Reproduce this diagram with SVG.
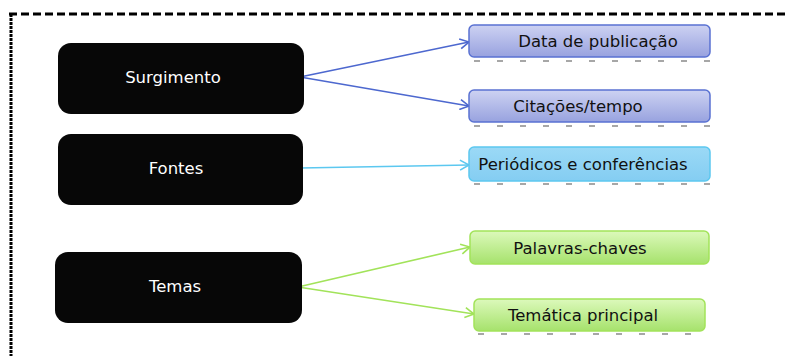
<svg xmlns="http://www.w3.org/2000/svg" width="789" height="356" viewBox="0 0 789 356">
<defs>
<linearGradient id="gBlue" x1="0" y1="0" x2="0" y2="1"><stop offset="0" stop-color="#cdd2f2"/><stop offset="1" stop-color="#98a2df"/></linearGradient>
<linearGradient id="gCyan" x1="0" y1="0" x2="0" y2="1"><stop offset="0" stop-color="#9bd9f6"/><stop offset="1" stop-color="#84cdf2"/></linearGradient>
<linearGradient id="gGreen" x1="0" y1="0" x2="0" y2="1"><stop offset="0" stop-color="#dcf9bb"/><stop offset="1" stop-color="#a6e26c"/></linearGradient>
<marker id="aBlue" markerWidth="12" markerHeight="12" refX="10" refY="6" orient="auto" markerUnits="userSpaceOnUse"><path d="M1,1 L10,6 L1,11" fill="none" stroke="#4d68cf" stroke-width="1.6"/></marker>
<marker id="aCyan" markerWidth="12" markerHeight="12" refX="10" refY="6" orient="auto" markerUnits="userSpaceOnUse"><path d="M1,1 L10,6 L1,11" fill="none" stroke="#5cc8f0" stroke-width="1.6"/></marker>
<marker id="aGreen" markerWidth="12" markerHeight="12" refX="10" refY="6" orient="auto" markerUnits="userSpaceOnUse"><path d="M1,1 L10,6 L1,11" fill="none" stroke="#a2e35a" stroke-width="1.6"/></marker>
</defs>
<style>
.dark{fill:#070707;}
.dt{font-family:"DejaVu Sans",sans-serif;font-size:16.5px;fill:#ffffff;text-anchor:middle;dominant-baseline:central;}
.lt{font-family:"DejaVu Sans",sans-serif;font-size:16.5px;fill:#111111;text-anchor:middle;dominant-baseline:central;}
.shadow{stroke:#8a8a8a;stroke-width:1.5;stroke-dasharray:6 17;fill:none;}
.border{fill:none;stroke:#000;stroke-width:3;}
</style>
<rect width="789" height="356" fill="#ffffff"/>
<g id="frame">
<line class="border" x1="9" y1="14" x2="789" y2="14" stroke-dasharray="8 4"/>
<line class="border" x1="11" y1="14" x2="11" y2="356" stroke-dasharray="3 1"/>
</g>
<g id="connectors" fill="none" stroke-width="1.6">
<line x1="300" y1="77" x2="469" y2="42" stroke="#4d68cf" marker-end="url(#aBlue)"/>
<line x1="300" y1="77" x2="469" y2="106" stroke="#4d68cf" marker-end="url(#aBlue)"/>
<line x1="300" y1="168" x2="469" y2="165" stroke="#5cc8f0" marker-end="url(#aCyan)"/>
<line x1="298" y1="287" x2="470" y2="247" stroke="#a2e35a" marker-end="url(#aGreen)"/>
<line x1="298" y1="287" x2="474" y2="314" stroke="#a2e35a" marker-end="url(#aGreen)"/>
</g>
<g id="surgimento">
<rect class="dark" x="58" y="43" width="246" height="71" rx="13"/>
<text class="dt" x="173" y="77">Surgimento</text>
</g>
<g id="fontes">
<rect class="dark" x="58" y="134" width="245" height="71" rx="13"/>
<text class="dt" x="176" y="168">Fontes</text>
</g>
<g id="temas">
<rect class="dark" x="55" y="252" width="247" height="71" rx="13"/>
<text class="dt" x="175" y="286">Temas</text>
</g>
<g id="data">
<rect x="469" y="25" width="241" height="32" rx="5" fill="url(#gBlue)" stroke="#5a72d2" stroke-width="1.5"/>
<line class="shadow" x1="474" y1="61" x2="710" y2="61"/>
<text class="lt" x="598" y="41">Data de publicação</text>
</g>
<g id="citacoes">
<rect x="469" y="90" width="241" height="32" rx="5" fill="url(#gBlue)" stroke="#5a72d2" stroke-width="1.5"/>
<line class="shadow" x1="474" y1="126" x2="710" y2="126"/>
<text class="lt" x="578" y="106">Citações/tempo</text>
</g>
<g id="periodicos">
<rect x="469" y="147" width="241" height="34" rx="5" fill="url(#gCyan)" stroke="#5cc8f0" stroke-width="1.5"/>
<line class="shadow" x1="474" y1="184" x2="710" y2="184"/>
<text class="lt" x="583" y="164">Periódicos e conferências</text>
</g>
<g id="palavras">
<rect x="470" y="231" width="239" height="33" rx="5" fill="url(#gGreen)" stroke="#a2e35a" stroke-width="1.5"/>
<text class="lt" x="580" y="248">Palavras-chaves</text>
</g>
<g id="tematica">
<rect x="474" y="299" width="231" height="32" rx="5" fill="url(#gGreen)" stroke="#a2e35a" stroke-width="1.5"/>
<line class="shadow" x1="478" y1="334" x2="700" y2="334"/>
<text class="lt" x="583" y="315">Temática principal</text>
</g>
</svg>
